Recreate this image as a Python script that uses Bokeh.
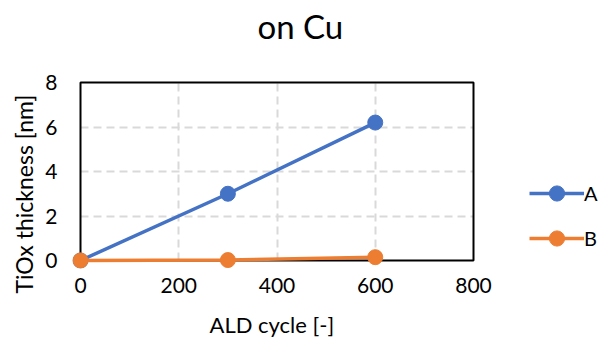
from bokeh.plotting import figure
from bokeh.models import Range1d, Legend, LegendItem, Title, BoxAnnotation, FixedTicker
from bokeh.embed import file_html
from bokeh.resources import INLINE

# ---- data ----
cycles = [0, 300, 600]
series_a = [0.0, 3.0, 6.2]
series_b = [0.0, 0.02, 0.15]
x_ticks = [0, 200, 400, 600, 800]
y_ticks = [0, 2, 4, 6, 8]
title_text = "on Cu"
x_title = "ALD cycle [-]"
y_title = "TiOx thickness [nm]"
names = ["A", "B"]

BLUE = "#4472C4"
ORANGE = "#ED7D31"
FONT = "Lato"

# layout (pixels)
W, H = 600, 342
F_LEFT, F_TOP, F_BOTTOM = 72, 74, 268
PLOT_L, PLOT_R = 80, 473          # pixel position of x=0 and x=800
PAD = 8                           # padding so edge markers are not clipped
x0, x1 = x_ticks[0], x_ticks[-1]
y0, y1 = y_ticks[0], y_ticks[-1]
ux = (x1 - x0) / (PLOT_R - PLOT_L)
uy = (y1 - y0) / (F_BOTTOM - F_TOP - 2 * PAD)
xs = x0 - (PLOT_L - F_LEFT) * ux
xe = xs + (W - F_LEFT) * ux

p = figure(width=W, height=H, output_backend="svg", toolbar_location=None,
           x_range=Range1d(xs, xe),
           y_range=Range1d(y0 - PAD * uy, y1 + PAD * uy),
           min_border_left=F_LEFT, min_border_right=0,
           min_border_top=F_TOP, min_border_bottom=H - F_BOTTOM)
p.outline_line_color = None
p.background_fill_color = "white"
p.border_fill_color = "white"

for ax, ticks in ((p.xaxis, x_ticks), (p.yaxis, y_ticks)):
    ax.ticker = FixedTicker(ticks=ticks)
    ax.axis_line_color = None
    ax.major_tick_line_color = None
    ax.minor_tick_line_color = None
    ax.major_tick_out = 0
    ax.major_tick_in = 0
    ax.major_label_text_font = FONT
    ax.major_label_text_font_size = "21px"
    ax.major_label_text_color = "black"
p.xaxis.major_label_standoff = 9
p.yaxis.major_label_standoff = 15

# grids (inner lines only; the frame covers the outer ones)
p.xgrid.ticker = FixedTicker(ticks=x_ticks[1:-1])
p.ygrid.ticker = FixedTicker(ticks=y_ticks[1:-1])
for g in (p.xgrid, p.ygrid):
    g.grid_line_color = "#D9D9D9"
    g.grid_line_width = 2
    g.grid_line_dash = "8 5"
p.xgrid.cross_bounds = (y0, y1)
p.ygrid.cross_bounds = (x0, x1)

# plot-area frame
p.add_layout(BoxAnnotation(left=x0, right=x1, bottom=y0, top=y1, fill_alpha=0,
                           line_color="black", line_width=2, line_alpha=1,
                           level="underlay"))

la = p.line(cycles, series_a, line_color=BLUE, line_width=3.5)
sa = p.scatter(cycles, series_a, size=15, fill_color=BLUE, line_color=BLUE)
lb = p.line(cycles, series_b, line_color=ORANGE, line_width=3.5)
sb = p.scatter(cycles, series_b, size=15, fill_color=ORANGE, line_color=ORANGE)

legend = Legend(items=[LegendItem(label=names[0], renderers=[la, sa]),
                       LegendItem(label=names[1], renderers=[lb, sb])],
                location=(529 - F_LEFT, F_BOTTOM - 257), orientation="vertical",
                glyph_width=55, glyph_height=38, label_height=38, spacing=7,
                label_standoff=0, padding=0, margin=0, border_line_color=None,
                background_fill_alpha=0, label_text_font=FONT,
                label_text_font_size="20px", label_text_color="black")
p.add_layout(legend)

# chart title (an empty spacer title sits between it and the plot area)
p.add_layout(Title(text=" ", standoff=0, text_font=FONT, text_font_size="22px"), "above")
p.add_layout(Title(text=title_text, align="left", offset=185, standoff=0,
                   vertical_align="bottom", text_font=FONT, text_font_size="33px",
                   text_font_style="normal", text_color="black"), "above")

# x axis title
p.add_layout(Title(text=" ", standoff=0, text_font=FONT, text_font_size="11px"), "below")
p.add_layout(Title(text=x_title, align="left", offset=209 - F_LEFT, standoff=0,
                   vertical_align="top", text_font=FONT, text_font_size="22px",
                   text_font_style="normal", text_color="black"), "below")

# y axis title
p.add_layout(Title(text=y_title, align="left", offset=F_BOTTOM - 293, standoff=9,
                   text_font=FONT, text_font_size="23px", text_font_style="normal",
                   text_color="black"), "left")

open("out.html", "w").write(file_html(p, INLINE))
